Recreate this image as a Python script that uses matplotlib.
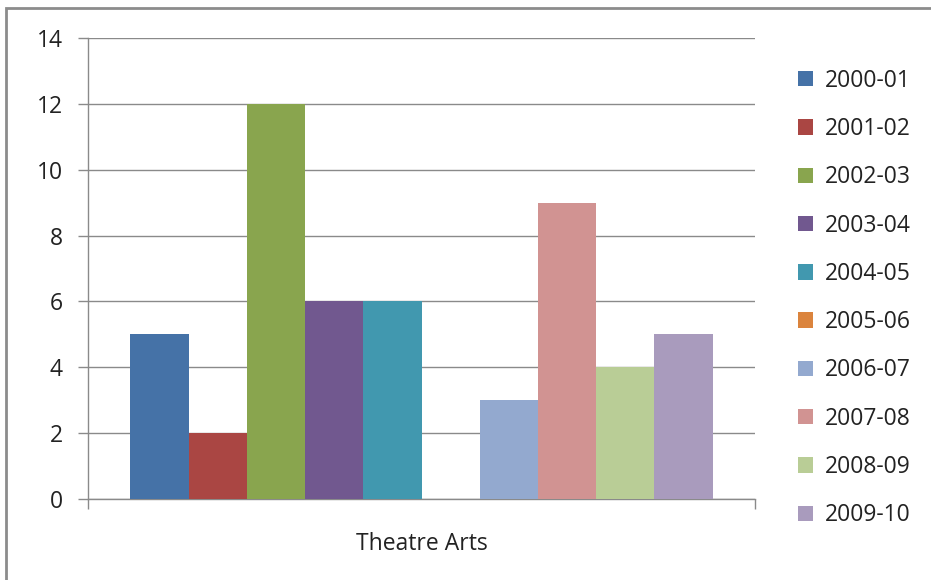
import matplotlib
matplotlib.use("Agg")
import matplotlib.pyplot as plt
from matplotlib.patches import Rectangle

plt.rcParams['font.family'] = ['Open Sans', 'DejaVu Sans']

category = "Theatre Arts"
years = ["2000-01", "2001-02", "2002-03", "2003-04", "2004-05",
         "2005-06", "2006-07", "2007-08", "2008-09", "2009-10"]
values = [5, 2, 12, 6, 6, 0, 3, 9, 4, 5]
colors = ["#4572A7", "#AA4643", "#89A54E", "#71588F", "#4198AF",
          "#DB843D", "#93A9CF", "#D19392", "#B9CD96", "#A99BBD"]

fig = plt.figure(figsize=(9.31, 5.8), dpi=100)
fig.patch.set_facecolor("white")

# chart border (only left/top visible in the crop)
fig.patches.append(Rectangle((6 / 931, -0.1), 1.2, (580 - 8) / 580 + 0.1,
                             transform=fig.transFigure, fill=False,
                             edgecolor="#8c8c8c", linewidth=2))

ax = fig.add_axes([88 / 931, 81 / 580, 667 / 931, 461 / 580])

group = 0.8726
w = group / len(values)
for i, (yr, v, c) in enumerate(zip(years, values, colors)):
    x = -group / 2 + (i + 0.5) * w
    ax.bar(x, v, width=w, color=c, label=yr, linewidth=0, zorder=3)

ax.set_xlim(-0.5, 0.5)
ax.set_ylim(0, 14)
ax.set_yticks(range(0, 15, 2))
ax.yaxis.grid(True, color="#8a8a8a", linewidth=1)
ax.set_axisbelow(True)

ax.set_xticks([0])
ax.set_xticklabels([category])
ax.set_xticks([-0.5, 0.5], minor=True)
ax.tick_params(axis="x", which="major", length=0, pad=24, labelsize=16.5,
               colors="#222222")
ax.tick_params(axis="x", which="minor", length=7, width=1, color="#8a8a8a")
ax.tick_params(axis="y", length=7, width=1, color="#8a8a8a", pad=11,
               labelsize=16.5, labelcolor="#222222")

for s in ["top", "right"]:
    ax.spines[s].set_visible(False)
for s in ["left", "bottom"]:
    ax.spines[s].set_color("#8a8a8a")
    ax.spines[s].set_linewidth(1)

leg = fig.legend(loc="center left", bbox_to_anchor=(798 / 931, (580 - 298) / 580),
                 frameon=False, fontsize=16.5, borderpad=0, borderaxespad=0,
                 handlelength=0.66, handleheight=0.66, handletextpad=0.5,
                 labelspacing=1.06)
for t in leg.get_texts():
    t.set_color("#222222")

fig.savefig("out.png", dpi=100, facecolor="white")
